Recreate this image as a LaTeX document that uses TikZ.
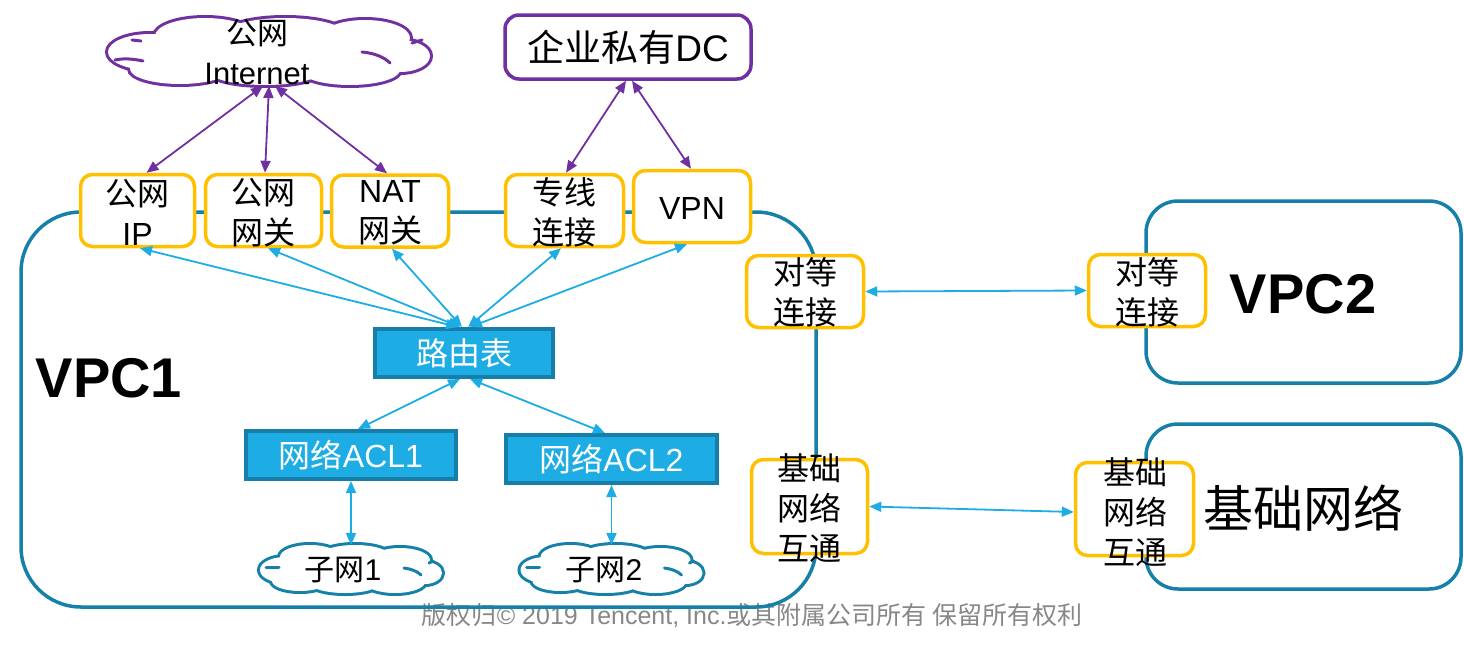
\documentclass[tikz,border=0pt]{standalone}
\usepackage{fontspec}
\setmainfont{Liberation Sans}
\newfontfamily\cjkfont{Noto Sans CJK SC}
\newcommand{\zh}[1]{{\cjkfont #1}}
\usetikzlibrary{arrows.meta}
\definecolor{vpcb}{RGB}{21,128,170}
\definecolor{yel}{RGB}{255,192,0}
\definecolor{pur}{RGB}{112,48,160}
\definecolor{lb}{RGB}{29,172,227}
\definecolor{lbd}{RGB}{22,126,168}
\definecolor{cgray}{RGB}{135,135,135}
\begin{document}
\begin{tikzpicture}[x=1pt,y=-1pt,
  ybox/.style={draw=yel, line width=3.5pt, rounded corners=12pt, fill=white,
    minimum width=114pt, minimum height=72pt, inner sep=0pt},
  ytxt/.style={font=\fontsize{32pt}{40pt}\selectfont, align=center, inner sep=0pt},
  bbox/.style={draw=lbd, fill=lb, line width=4pt, inner sep=0pt, text=white,
    font=\fontsize{32pt}{38pt}\selectfont, minimum height=48pt},
  parr/.style={draw=pur, line width=1.8pt,
    arrows={Triangle[length=12pt,width=10pt]-Triangle[length=12pt,width=10pt]}},
  barr/.style={draw=lb, line width=1.8pt,
    arrows={Triangle[length=12pt,width=10pt]-Triangle[length=12pt,width=10pt]}},
  vpcline/.style={draw=vpcb, line width=3.5pt},
  anchorbox/.style={inner sep=0pt, outer sep=0pt},
  fold/.style={line width=3pt, line cap=round},
  biglbl/.style={font=\fontsize{56pt}{60pt}\selectfont\bfseries, inner sep=0pt}
]
\useasboundingbox (0,0) rectangle (1464,645);

% copyright (under the border)
\node[text=cgray, font=\fontsize{25pt}{28pt}\selectfont, inner sep=0pt] (copy) at (752,616)
  {\zh{版权归}© 2019 Tencent, Inc.\zh{或其附属公司所有 保留所有权利}};

% big containers
\draw[vpcline, rounded corners=60pt] (21,212) rectangle (816,607);
\draw[vpcline, rounded corners=32pt] (1146,201) rectangle (1461,383);
\draw[vpcline, rounded corners=32pt] (1146,424) rectangle (1461,589);

\node[biglbl] (vpc1) at (109,378) {VPC1};
\node[biglbl] (vpc2) at (1303,294) {VPC2};
\node[font=\fontsize{50pt}{56pt}\selectfont, inner sep=0pt] (jc) at (1303,508) {\zh{基础网络}};

% internet cloud (union of puffs)
\begin{scope}[shift={(269,52)}]
  \foreach \a/\b/\c/\d in {-119/0/42/18, -64/-16/50/18, 16/-18/60/16, 96/-14/45/18,
      131/4/30/16, 81/18/50/15, -4/20/55/13, -89/17/50/15}
    \draw[pur, line width=6pt] (\a,\b) ellipse [x radius=\c pt, y radius=\d pt];
  \foreach \a/\b/\c/\d in {-119/0/42/18, -64/-16/50/18, 16/-18/60/16, 96/-14/45/18,
      131/4/30/16, 81/18/50/15, -4/20/55/13, -89/17/50/15, 0/0/125/25}
    \fill[white] (\a,\b) ellipse [x radius=\c pt, y radius=\d pt];
  \draw[pur, fold] (-154,8) .. controls (-145,6) and (-135,7) .. (-126,9);
  \draw[pur, fold] (93,0) .. controls (105,1) and (115,5) .. (121,11);
  \draw[pur, fold] (143,-9) -- (153,-12);
  \draw[pur, fold] (-137,-12) -- (-128,-11);
\end{scope}
\node[anchorbox, minimum width=322pt, minimum height=68pt] (inet) at (269,52) {};
\node[ytxt, font=\fontsize{31pt}{40pt}\selectfont] (inettxt) at (257,52) {\zh{公网}\\Internet};

% private DC
\node[draw=pur, line width=3.5pt, rounded corners=14pt, minimum width=246pt, minimum height=64pt,
  font=\fontsize{37pt}{40pt}\selectfont, inner sep=0pt] (dc) at (628,47) {\zh{企业私有}DC};

% yellow boxes
\node[ybox] (ip) at (137.5,210.5) {};
\node[ybox, minimum width=116pt] (gw) at (263.5,210.5) {};
\node[ybox, minimum width=117pt] (nat) at (390,211) {};
\node[ybox, minimum width=118pt] (zx) at (564.5,210.5) {};
\node[ybox, minimum width=117pt] (vpn) at (692,206.5) {};
\node[ybox, minimum width=117pt] (peer1) at (805,291.5) {};
\node[ybox, minimum width=117pt] (peer2) at (1147,290.5) {};
\node[ybox, minimum width=116pt, minimum height=94pt] (base1) at (809.5,506.5) {};
\node[ybox, minimum width=118pt, minimum height=93pt] (base2) at (1134.5,509) {};

\node[ytxt] (iptxt) at (137.5,212.5) {\zh{公网}\\IP};
\node[ytxt] (gwtxt) at (263.5,212.5) {\zh{公网}\\\zh{网关}};
\node[ytxt] (nattxt) at (390,212.5) {NAT\\\zh{网关}};
\node[ytxt] (zxtxt) at (564.5,212.5) {\zh{专线}\\\zh{连接}};
\node[ytxt] (vpntxt) at (692,208) {VPN};
\node[ytxt] (p1txt) at (805.5,292) {\zh{对等}\\\zh{连接}};
\node[ytxt] (p2txt) at (1147,292) {\zh{对等}\\\zh{连接}};
\node[ytxt] (b1txt) at (809.5,508) {\zh{基础}\\\zh{网络}\\\zh{互通}};
\node[ytxt] (b2txt) at (1135.5,512) {\zh{基础}\\\zh{网络}\\\zh{互通}};

% blue boxes
\node[bbox, minimum width=178pt] (rt) at (464,353) {\zh{路由表}};
\node[bbox, minimum width=210pt] (acl1) at (351,455) {\zh{网络}ACL1};
\node[bbox, minimum width=211pt] (acl2) at (611.5,459) {\zh{网络}ACL2};

% subnet clouds
\foreach \cx/\nm in {351/sn1, 611.5/sn2}{
  \begin{scope}[shift={(\cx,569)}]
    \foreach \a/\b/\c/\d in {-66/1/25/13, -41/-12/30/12, 4/-13/35/11, 49/-9/30/12,
        74/4/17/11, 44/13/30/11, -6/14/35/10, -51/12/28/10}
      \draw[vpcb, line width=6pt] (\a,\b) ellipse [x radius=\c pt, y radius=\d pt];
    \foreach \a/\b/\c/\d in {-66/1/25/13, -41/-12/30/12, 4/-13/35/11, 49/-9/30/12,
        74/4/17/11, 44/13/30/11, -6/14/35/10, -51/12/28/10, 0/0/75/17}
      \fill[white] (\a,\b) ellipse [x radius=\c pt, y radius=\d pt];
    \draw[vpcb, fold] (-85,-2) -- (-72,-2);
    \draw[vpcb, fold] (53,-1) .. controls (60,0) and (66,2) .. (70,6);
    \draw[vpcb, fold] (78,-6) -- (82,-8);
  \end{scope}
  \node[anchorbox, minimum width=182pt, minimum height=48pt] (\nm) at (\cx,569) {};
}
\node[ytxt, font=\fontsize{30pt}{36pt}\selectfont] (sn1txt) at (343,570) {\zh{子网}1};
\node[ytxt, font=\fontsize{30pt}{36pt}\selectfont] (sn2txt) at (604,570) {\zh{子网}2};

% purple connectors
\draw[parr] ([xshift=-6pt]inet.south) -- ([xshift=9pt]ip.north);
\draw[parr] (inet.south) -- ([xshift=1.5pt]gw.north);
\draw[parr] ([xshift=6pt]inet.south) -- ([xshift=-3pt]nat.north);
\draw[parr] ([xshift=-2pt]dc.south) -- ([xshift=1.5pt]zx.north);
\draw[parr] ([xshift=4pt]dc.south) -- ([xshift=-1pt]vpn.north);

% blue connectors
\draw[barr] ([xshift=-6pt]rt.north) -- ([xshift=2.5pt]ip.south);
\draw[barr] ([xshift=-4pt]rt.north) -- ([xshift=4.5pt]gw.south);
\draw[barr] ([xshift=-2pt]rt.north) -- ([xshift=2pt]nat.south);
\draw[barr] ([xshift=4pt]rt.north) -- ([xshift=-3.5pt]zx.south);
\draw[barr] ([xshift=6pt]rt.north) -- ([xshift=-5pt]vpn.south);
\draw[barr] ([xshift=-4pt]rt.south) -- ([xshift=7pt]acl1.north);
\draw[barr] ([xshift=6pt]rt.south) -- ([xshift=-6.5pt]acl2.north);
\draw[barr] (acl1.south) -- (sn1.north);
\draw[barr] (acl2.south) -- (sn2.north);
\draw[barr] (peer1.east) -- (peer2.west);
\draw[barr] (base1.east) -- ([yshift=-3pt]base2.west);
\end{tikzpicture}
\end{document}
